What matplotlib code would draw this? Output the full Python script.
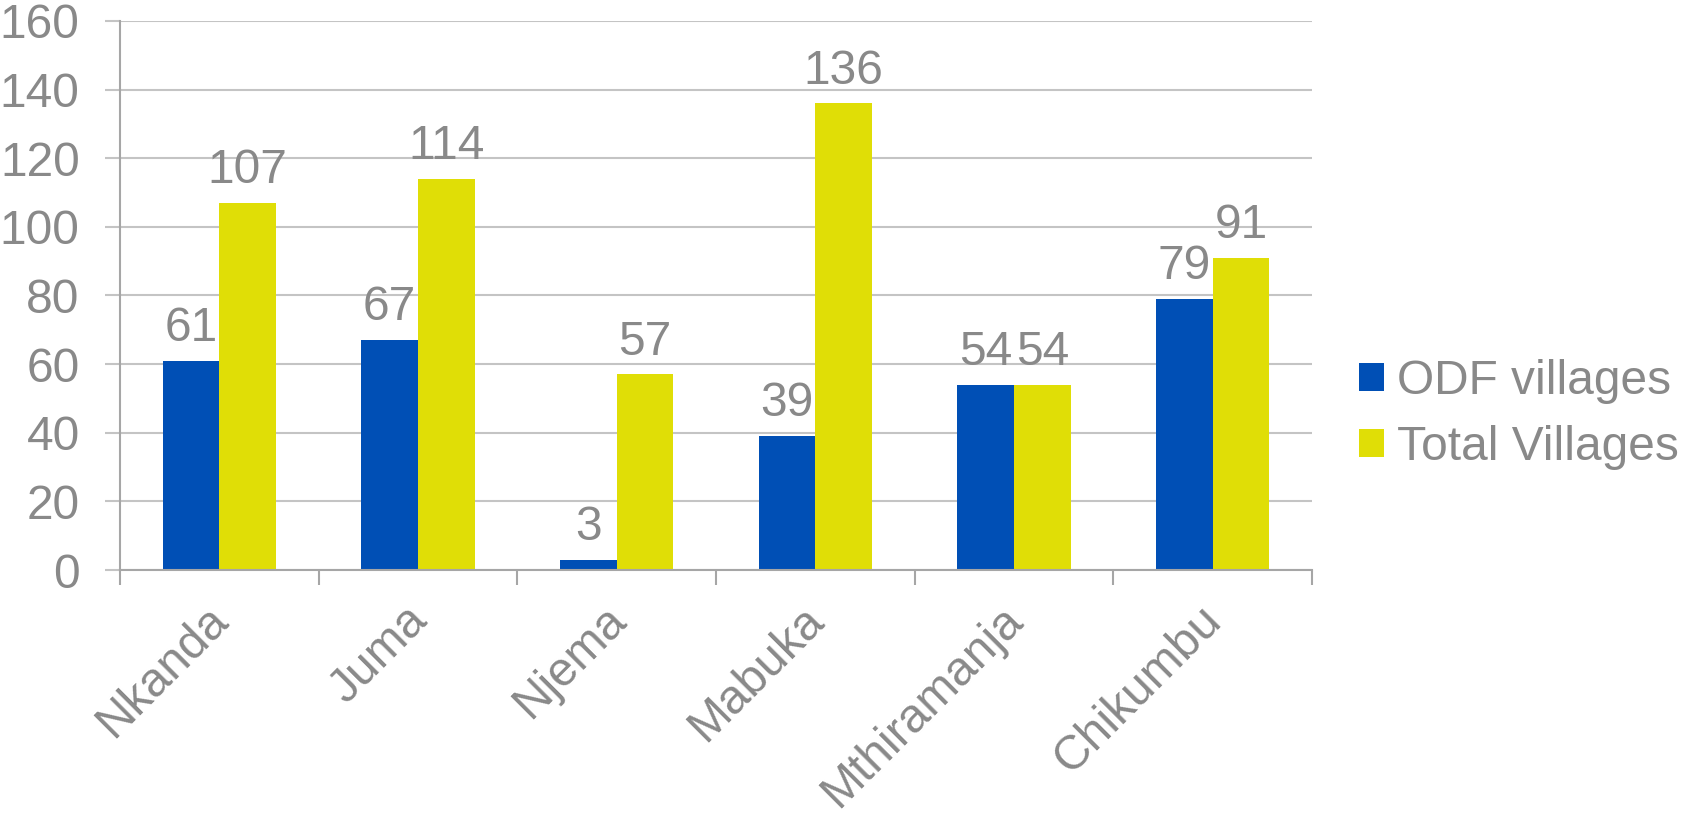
import matplotlib
matplotlib.use("Agg")
import matplotlib.pyplot as plt
import matplotlib.transforms as mtransforms
import numpy as np

plt.rcParams['font.family'] = ['Liberation Sans', 'DejaVu Sans']

districts = ["Nkanda", "Juma", "Njema", "Mabuka", "Mthiramanja", "Chikumbu"]
odf_villages = [61, 67, 3, 39, 54, 79]
total_villages = [107, 114, 57, 136, 54, 91]
y_ticks = [0, 20, 40, 60, 80, 100, 120, 140, 160]

blue = "#004FB5"
yellow = "#E0DE06"
text_grey = "#898989"
grid_grey = "#C4C4C4"
axis_grey = "#A6A6A6"
fs = 34.5

fig = plt.figure(figsize=(16.84, 8.16), dpi=100)
ax = fig.add_axes([120 / 1684, 1 - 570 / 816, (1312 - 120) / 1684, (570 - 21) / 816])

x = np.arange(len(districts))
w = 0.285
b1 = ax.bar(x - w / 2, odf_villages, w, color=blue, label="ODF villages", zorder=2)
b2 = ax.bar(x + w / 2, total_villages, w, color=yellow, label="Total Villages", zorder=2)

# value labels above each bar
for bars in (b1, b2):
    for rect in bars:
        h = rect.get_height()
        ax.annotate(str(int(h)), (rect.get_x() + rect.get_width() / 2, h),
                    xytext=(0, 7), textcoords="offset points",
                    ha="center", va="bottom", fontsize=fs, color=text_grey, zorder=3)

ax.set_xlim(-0.5, len(districts) - 0.5)
ax.set_ylim(0, 160)
ax.set_yticks(y_ticks)
ax.yaxis.grid(True, color=grid_grey, linewidth=1.5, zorder=0)
ax.set_axisbelow(True)

ax.set_xticks(np.arange(len(districts) + 1) - 0.5)
ax.set_xticklabels([])
ax.set_xticks(x, minor=True)
ax.set_xticklabels(districts, minor=True, rotation=45, ha="right",
                   rotation_mode="anchor", fontsize=fs, color=text_grey)
ax.tick_params(axis="x", which="minor", length=0, pad=20)
ax.tick_params(axis="x", which="major", length=11, width=1.5, color=axis_grey)
ax.tick_params(axis="y", length=11, width=1.5, color=grid_grey,
               labelsize=fs, labelcolor=text_grey, pad=18)

# nudge rotated labels left so their ends sit just right of the category centre
shift = mtransforms.ScaledTranslation(-14 / 100, 0, fig.dpi_scale_trans)
for lab in ax.get_xticklabels(minor=True):
    lab.set_transform(lab.get_transform() + shift)

for side in ("top", "right"):
    ax.spines[side].set_visible(False)
for side in ("left", "bottom"):
    ax.spines[side].set_color(axis_grey)
    ax.spines[side].set_linewidth(1.5)

leg = fig.legend(handles=[b1, b2], loc="center left", bbox_to_anchor=(1359 / 1684, 0.492),
                 frameon=False, fontsize=fs, handlelength=0.52, handleheight=0.52,
                 handletextpad=0.27, labelspacing=0.45, borderaxespad=0, borderpad=0)
for t in leg.get_texts():
    t.set_color(text_grey)

fig.savefig("out.png", dpi=100)
